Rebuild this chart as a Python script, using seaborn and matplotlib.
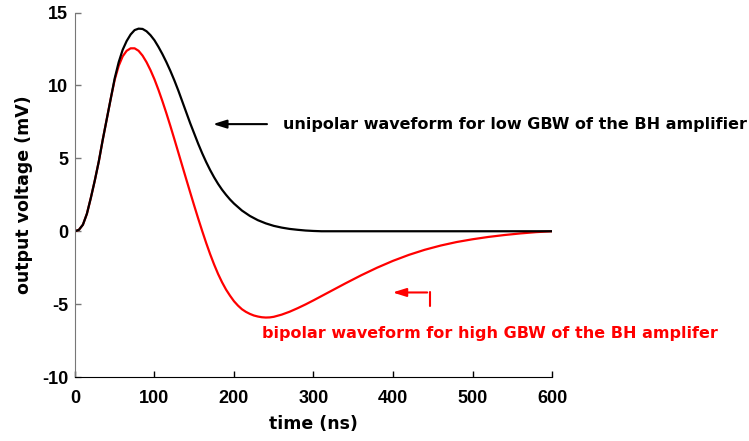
import numpy as np
import pandas as pd
import seaborn as sns
import matplotlib.pyplot as plt

## datos (tiempo en ns, voltaje en mV)
t_uni = [0, 5, 10, 15, 20, 25, 30, 35, 40, 45, 50, 55, 60, 65, 70, 75, 80, 85, 90, 95,
         100, 105, 110, 115, 120, 125, 130, 135, 140, 145, 150, 155, 160, 165, 170, 175,
         180, 185, 190, 195, 200, 210, 220, 230, 240, 250, 260, 270, 280, 290, 300, 310, 600]
v_uni = [0, 0.1, 0.45, 1.2, 2.3, 3.5, 4.8, 6.3, 7.7, 9.1, 10.5, 11.6, 12.45, 13.05, 13.5, 13.8,
         13.9, 13.88, 13.72, 13.45, 13.1, 12.65, 12.15, 11.6, 11.0, 10.35, 9.65, 8.9, 8.15,
         7.4, 6.7, 6.0, 5.35, 4.75, 4.2, 3.7, 3.25, 2.85, 2.5, 2.18, 1.9, 1.42, 1.05, 0.76,
         0.54, 0.37, 0.25, 0.16, 0.1, 0.05, 0.02, 0, 0]

t_bi = [0, 5, 10, 15, 20, 25, 30, 35, 40, 45, 50, 55, 60, 65, 70, 75, 80, 85, 90, 95,
        100, 105, 110, 115, 120, 125, 130, 135, 140, 145, 150, 155, 160, 165, 170, 175,
        180, 185, 190, 195, 200, 205, 210, 215, 220, 225, 230, 235, 240, 245, 250, 260,
        270, 280, 290, 300, 320, 340, 360, 380, 400, 420, 440, 460, 480, 500, 520, 540,
        560, 580, 600]
v_bi = [0, 0.1, 0.45, 1.2, 2.3, 3.5, 4.8, 6.3, 7.7, 9.1, 10.4, 11.35, 12.0, 12.38, 12.55,
        12.55, 12.38, 12.05, 11.6, 11.05, 10.42, 9.7, 8.92, 8.09, 7.22, 6.32, 5.4, 4.48, 3.56,
        2.65, 1.75, 0.87, 0.02, -0.8, -1.57, -2.28, -2.93, -3.5, -4.0, -4.42, -4.8, -5.1,
        -5.35, -5.53, -5.67, -5.78, -5.85, -5.9, -5.92, -5.91, -5.87, -5.72, -5.52, -5.28,
        -5.02, -4.74, -4.16, -3.58, -3.02, -2.5, -2.03, -1.62, -1.27, -0.98, -0.74, -0.55,
        -0.39, -0.26, -0.15, -0.06, 0]

x_ticks = [0, 100, 200, 300, 400, 500, 600]
y_ticks = [-10, -5, 0, 5, 10, 15]

df = pd.concat([
    pd.DataFrame({'t': t_bi, 'v': v_bi, 'forma': 'bipolar'}),
    pd.DataFrame({'t': t_uni, 'v': v_uni, 'forma': 'unipolar'}),
])

sns.set_style("ticks")
plt.rcParams['font.family'] = ['DejaVu Sans']
plt.rcParams['font.weight'] = 'bold'
plt.rcParams['axes.unicode_minus'] = False
plt.rcParams['text.color'] = 'black'
plt.rcParams['axes.labelcolor'] = 'black'

fig = plt.figure(figsize=(7.49, 4.41), dpi=100)
ax = fig.add_axes([0.1001, 0.1451, 0.6369, 0.8263])

sns.lineplot(data=df, x='t', y='v', hue='forma', hue_order=['bipolar', 'unipolar'],
             palette={'bipolar': 'red', 'unipolar': 'black'}, linewidth=1.6,
             legend=False, sort=False, ax=ax)

ax.set_xlim(0, 600)
ax.set_ylim(-10, 15)
ax.set_xticks(x_ticks)
ax.set_yticks(y_ticks)
ax.tick_params(direction='in', length=4, width=1, labelcolor='black')
ax.tick_params(axis='x', pad=9, color='black')
ax.tick_params(axis='y', pad=5, color='#777777')
for lab in ax.get_xticklabels() + ax.get_yticklabels():
    lab.set_fontfamily(['Liberation Sans', 'DejaVu Sans'])
    lab.set_fontweight('bold')
    lab.set_fontsize(13)
sns.despine(ax=ax)
ax.spines['left'].set_color('#777777')
ax.spines['bottom'].set_color('black')

ax.set_xlabel('time (ns)', fontsize=12.5, fontweight='bold', labelpad=6)
ax.set_ylabel('output voltage (mV)', fontsize=12.5, fontweight='bold', labelpad=6)

## anotaciones
ax.annotate('', xy=(170, 7.35), xytext=(245, 7.35),
            arrowprops=dict(arrowstyle='-|>,head_length=0.8,head_width=0.25', color='black', lw=1.5),
            annotation_clip=False)
ax.text(262, 7.33, 'unipolar waveform for low GBW of the BH amplifier', fontsize=11.5,
        fontweight='bold', color='black', va='center', ha='left', clip_on=False)

ax.plot([446, 446], [-5.1, -4.2], color='red', lw=1.5)
ax.annotate('', xy=(396, -4.2), xytext=(446.5, -4.2),
            arrowprops=dict(arrowstyle='-|>,head_length=0.8,head_width=0.25', color='red', lw=1.5),
            annotation_clip=False)
ax.text(235, -7.03, 'bipolar waveform for high GBW of the BH amplifer', fontsize=11.5,
        fontweight='bold', color='red', va='center', ha='left', clip_on=False)

plt.savefig('out.png', dpi=100)
